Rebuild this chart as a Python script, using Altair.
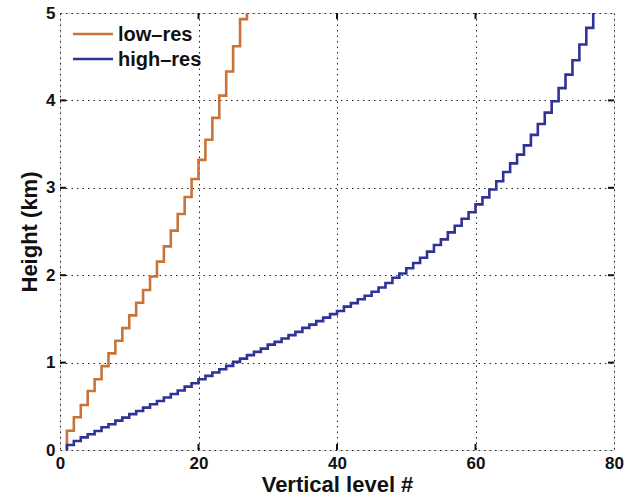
import altair as alt
import pandas as pd

# Interface heights (km); level k spans h[k-1]..h[k]
low_res_heights = [0.22, 0.375, 0.515, 0.675, 0.81, 0.96, 1.105, 1.25, 1.395, 1.54,
                   1.685, 1.83, 1.985, 2.155, 2.33, 2.51, 2.70, 2.895, 3.10, 3.32,
                   3.55, 3.80, 4.055, 4.33, 4.62, 4.93, 5.25]
high_res_heights = [0.057, 0.103, 0.145, 0.18, 0.218, 0.26, 0.294, 0.336, 0.37, 0.41,
                    0.447, 0.485, 0.523, 0.561, 0.60, 0.64, 0.68, 0.725, 0.764, 0.81,
                    0.848, 0.886, 0.924, 0.962, 1.008, 1.046, 1.085, 1.123, 1.16, 1.206,
                    1.237, 1.275, 1.314, 1.352, 1.397, 1.435, 1.475, 1.515, 1.555, 1.59,
                    1.64, 1.68, 1.725, 1.765, 1.81, 1.86, 1.91, 1.97, 2.02, 2.08,
                    2.14, 2.20, 2.27, 2.345, 2.41, 2.49, 2.565, 2.646, 2.72, 2.81,
                    2.89, 2.98, 3.075, 3.18, 3.28, 3.38, 3.485, 3.605, 3.73, 3.86,
                    3.99, 4.14, 4.295, 4.46, 4.64, 4.83, 5.04]

series_names = ["low\u2013res", "high\u2013res"]
series_colors = ["#C8733A", "#2F3395"]
x_ticks = [0, 20, 40, 60, 80]
y_ticks = [0, 1, 2, 3, 4, 5]
x_inner_ticks = [20, 40, 60]
y_inner_ticks = [1, 2, 3, 4]

FONT = "Liberation Sans"
W, H = 554, 437


def steps(heights, name):
    ys = [0.0] + heights
    return pd.DataFrame({"level": list(range(1, len(ys) + 1)),
                         "height": ys, "series": name})


df = pd.concat([steps(low_res_heights, series_names[0]),
                steps(high_res_heights, series_names[1])], ignore_index=True)

xscale = alt.Scale(domain=[0, 80], nice=False)
yscale = alt.Scale(domain=[0, 5], nice=False)
cscale = alt.Scale(domain=series_names, range=series_colors)

common_axis = dict(grid=True, gridDash=[1.5, 4], gridColor="#222", gridWidth=1,
                   ticks=False, domain=False, labelFlush=False, labelOverlap=False,
                   labelFont=FONT, labelFontSize=17, labelFontWeight="bold",
                   labelColor="#111", titleFont=FONT, titleFontSize=22,
                   titleFontWeight="bold", titleColor="#111")

lines = alt.Chart(df).mark_line(interpolate="step-before", clip=True, strokeWidth=2.6).encode(
    x=alt.X("level:Q", scale=xscale,
            axis=alt.Axis(values=x_ticks, format="d", title="Vertical level #",
                          labelPadding=5, titlePadding=3, **common_axis)),
    y=alt.Y("height:Q", scale=yscale,
            axis=alt.Axis(values=y_ticks, format="d", title="Height (km)",
                          labelPadding=5, titlePadding=4, **common_axis)),
    color=alt.Color("series:N", scale=cscale, legend=None),
    detail="series:N",
)

xt = pd.DataFrame({"v": x_inner_ticks})
yt = pd.DataFrame({"v": y_inner_ticks})
tick_style = dict(color="#111", strokeWidth=2)
ticks_bottom = alt.Chart(xt).mark_rule(**tick_style).encode(
    x=alt.X("v:Q", scale=xscale), y=alt.value(H), y2=alt.value(H - 6))
ticks_top = alt.Chart(xt).mark_rule(**tick_style).encode(
    x=alt.X("v:Q", scale=xscale), y=alt.value(0), y2=alt.value(6))
ticks_left = alt.Chart(yt).mark_rule(**tick_style).encode(
    y=alt.Y("v:Q", scale=yscale), x=alt.value(0), x2=alt.value(6))
ticks_right = alt.Chart(yt).mark_rule(**tick_style).encode(
    y=alt.Y("v:Q", scale=yscale), x=alt.value(W), x2=alt.value(W - 6))

# manual legend (top-left, no box)
leg = pd.DataFrame({"series": series_names, "row": [0, 1]})
legend_rows = []
for i, name in enumerate(series_names):
    one = leg[leg.series == name]
    ypix = 21 + 25 * i
    legend_rows.append(alt.Chart(one).mark_rule(strokeWidth=2.6).encode(
        x=alt.value(13), x2=alt.value(53), y=alt.value(ypix),
        color=alt.Color("series:N", scale=cscale, legend=None)))
    legend_rows.append(alt.Chart(one).mark_text(
        align="left", baseline="middle", font=FONT, fontSize=20,
        fontWeight="bold", color="#111").encode(
        x=alt.value(58), y=alt.value(ypix + 1), text="series:N"))

chart = alt.layer(lines, ticks_bottom, ticks_top, ticks_left, ticks_right, *legend_rows).properties(
    width=W, height=H,
    autosize=alt.AutoSizeParams(type="none"),
    padding={"left": 60, "top": 13, "right": 19, "bottom": 47},
).configure_view(stroke="#111", strokeWidth=2).configure(background="white")

chart.save("out.html", embed_options={"renderer": "svg", "actions": False})
